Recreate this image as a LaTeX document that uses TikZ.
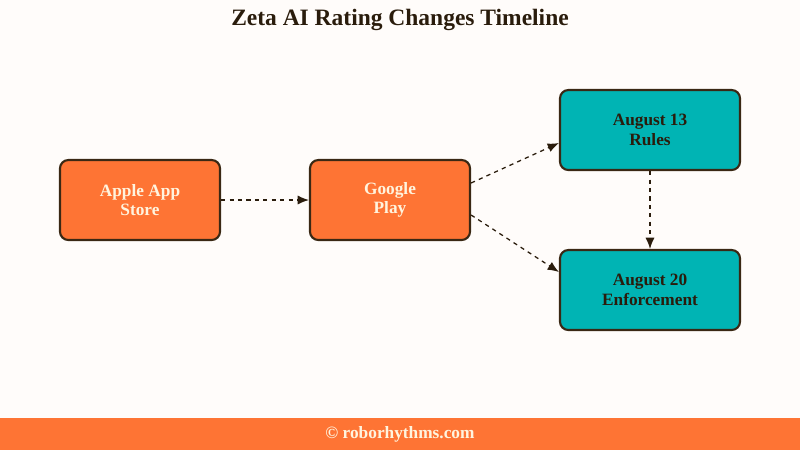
\documentclass[tikz,border=0pt]{standalone}
\usepackage{fontspec}
\setmainfont{Liberation Serif}
\usetikzlibrary{calc,arrows.meta}

\definecolor{bgcol}{HTML}{FFFCFA}
\definecolor{orangecol}{HTML}{FE7434}
\definecolor{tealcol}{HTML}{00B4B4}
\definecolor{edgecol}{HTML}{3A2814}
\definecolor{darktext}{HTML}{2A1C0C}
\definecolor{creamtext}{HTML}{FFF4DE}

\begin{document}
\begin{tikzpicture}
	 [x=0.025cm,y=-0.025cm,
	  box/.style={rectangle,rounded corners=6pt,draw=edgecol,line width=1.5pt,
	    minimum width=4cm,minimum height=2cm,align=center,
	    font=\fontsize{12.3}{14}\selectfont\bfseries},
	  orangebox/.style={box,fill=orangecol,text=creamtext},
	  tealbox/.style={box,fill=tealcol,text=darktext,minimum width=4.5cm},
	  link/.style={draw=darktext,line width=0.9pt,dashed,-{Latex[length=8pt,width=6.5pt]}}]

  \useasboundingbox (0,0) rectangle (800,450);
  \fill[bgcol] (0,0) rectangle (800,450);

  % title
  \node[font=\fontsize{16.7}{19}\selectfont\bfseries,text=darktext] (title) at (400,20) {Zeta AI Rating Changes Timeline};

  % boxes
  \node[orangebox] (as) at (140,200) {Apple App\\Store};
  \node[orangebox] (gp) at (390,200) {Google\\Play};
  \node[tealbox] (r13) at (650,130) {August 13\\Rules};
  \node[tealbox] (e20) at (650,290) {August 20\\Enforcement};

  % connectors
  \coordinate (gpa) at ($(gp.east)+(0,-17)$);
  \coordinate (gpb) at ($(gp.east)+(0,15)$);
  \coordinate (r13in) at ($(r13.west)+(0,13)$);
  \coordinate (e20in) at ($(e20.west)+(0,-18)$);
  \foreach \from/\to in {as.east/gp.west,gpa/r13in,gpb/e20in,r13.south/e20.north}
    \draw[link] (\from) -- (\to);

  % footer
  \fill[orangecol] (0,418) rectangle (800,450);
  \node[font=\fontsize{12.3}{14}\selectfont\bfseries,text=creamtext] (foot) at (400,434) {© roborhythms.com};

\end{tikzpicture}
\end{document}
